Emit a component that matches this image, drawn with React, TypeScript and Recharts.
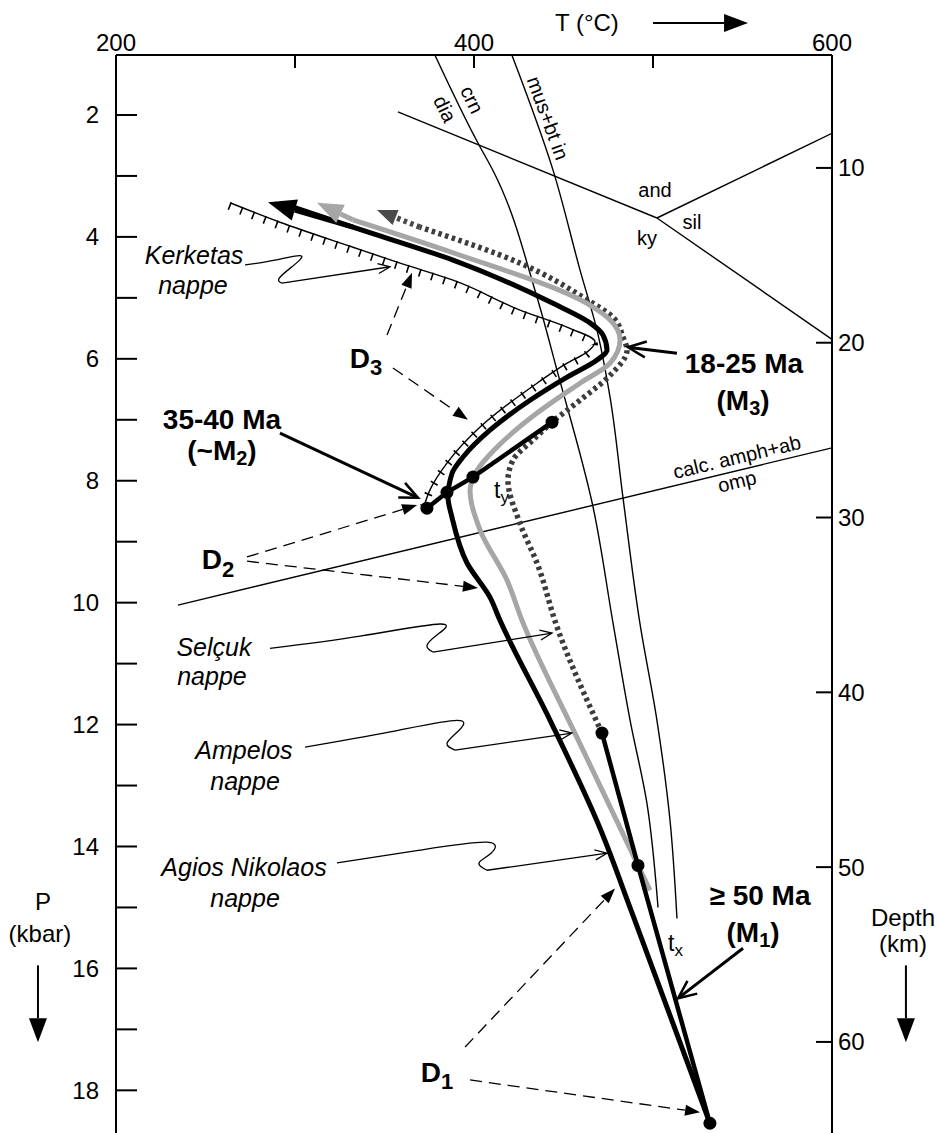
import React from 'react';
import { LineChart, Line, XAxis, YAxis, ReferenceLine, ReferenceDot } from 'recharts';

const FONT = '"Liberation Sans", Arial, Helvetica, sans-serif';

// axes
const tDomain = [200, 600];
const tTicks = [200, 300, 400, 500, 600];
const tLabelled = [200, 400, 600];
const pDomain = [1.016, 18.7];
const pTicks = [2, 3, 4, 5, 6, 7, 8, 9, 10, 11, 12, 13, 14, 15, 16, 17, 18];
const depthDomain = [3.54, 65.21];
const depthTicks = [10, 20, 30, 40, 50, 60];

type Pt = { T: number; P: number };
const pts = (rows: number[][]): Pt[] => rows.map(([T, P]) => ({ T, P }));

// reaction curves (T in °C, P in kbar)
const diaCrn = pts([[378.2, 1.02], [402.2, 2.46], [410.6, 2.91], [435.2, 4.99], [446.4, 6.19], [466.5, 8.43], [477.7, 10.34], [487.2, 11.93], [496.6, 13.29], [502.8, 15.0]]);
const musBtIn = pts([[421.2, 1.02], [444.1, 2.9], [459.2, 4.54], [468.7, 5.53], [476.0, 6.63], [483.2, 8.27], [492.7, 10.34], [502.2, 11.93], [509.5, 13.57], [513.4, 15.18]]);
const andKy = pts([[357.5, 1.95], [502.2, 3.69]]);
const andSil = pts([[502.2, 3.69], [600, 2.3]]);
const kySil = pts([[502.2, 3.69], [600, 5.68]]);
const amphOmp = pts([[234.6, 10.04], [600, 7.46]]);

// P-T paths of the nappes
const agiosPath = pts([[531.8, 18.54], [488.3, 15.09], [470.4, 13.7], [442.5, 11.93], [414.5, 10.29], [408.9, 9.91], [396.1, 9.35], [387.7, 8.6], [385.5, 8.27], [387.7, 7.88], [393.9, 7.61], [408.9, 7.17], [431.3, 6.68], [452.0, 6.3], [468.7, 6.02], [474.3, 5.86], [472.1, 5.61], [464.8, 5.41], [444.1, 5.09], [388.3, 4.38], [332.4, 3.84], [298.9, 3.51]]);
const ampelosPath = pts([[498.3, 14.72], [457.5, 12.21], [426.8, 10.29], [418.4, 9.63], [403.4, 8.81], [397.8, 8.15], [401.7, 7.83], [412.8, 7.45], [435.2, 6.89], [459.2, 6.4], [476.0, 6.07], [481.6, 5.69], [476.0, 5.36], [463.1, 5.09], [388.3, 4.26], [332.4, 3.72]]);
const selcukPath = pts([[471.5, 12.14], [446.4, 10.4], [435.2, 9.35], [425.7, 8.7], [419.0, 7.99], [421.8, 7.66], [433.0, 7.33], [443.6, 7.04], [459.2, 6.68], [476.0, 6.27], [485.5, 5.86], [483.2, 5.64], [477.7, 5.32], [463.1, 5.03], [425.7, 4.43], [369.8, 3.84]]);
const kerketasPath = pts([[263.7, 3.44], [291.6, 3.76], [332.4, 4.17], [358.7, 4.43], [388.3, 4.71], [425.7, 5.2], [453.6, 5.5], [467.6, 5.72], [463.1, 5.89], [452.0, 6.07], [435.2, 6.4], [403.4, 7.12], [384.9, 7.71], [375.4, 8.15], [372.6, 8.37]]);

// dated segments (t_y and t_x)
const m2Segment = pts([[373.7, 8.45], [384.9, 8.19], [399.4, 7.94], [443.6, 7.04]]);
const m1Segment = pts([[471.5, 12.14], [491.6, 14.31], [531.8, 18.54]]);

// path arrow heads: [T from, P from, T tip, P tip]
const agiosHead = [332.4, 3.84, 284.9, 3.43];
const ampelosHead = [332.4, 3.72, 312.3, 3.44];
const selcukHead = [369.8, 3.84, 345.8, 3.56];

// label squiggles and the straight arrow that ends each
const kerketasSquiggle = pts([[272.1, 4.46], [288.8, 4.38], [303.4, 4.31], [298.3, 4.49], [291.1, 4.68], [292.7, 4.76]]);
const selcukSquiggle = pts([[286.0, 10.75], [336.3, 10.55], [381.0, 10.35], [379.3, 10.53], [373.7, 10.71], [377.1, 10.81]]);
const ampelosSquiggle = pts([[305.6, 12.37], [353.1, 12.12], [390.5, 11.93], [391.1, 12.11], [384.9, 12.31], [389.4, 12.42]]);
const agiosSquiggle = pts([[323.5, 14.27], [369.8, 14.06], [407.3, 13.93], [409.5, 14.11], [402.8, 14.27], [407.3, 14.39]]);
const squiggles = [kerketasSquiggle, selcukSquiggle, ampelosSquiggle, agiosSquiggle];
const squiggleTips = [[353.1, 4.49], [443.6, 10.5], [454.7, 12.14], [474.3, 14.11]];

// deformation arrows (dashed) and age arrows
const dArrows = [
  [351.4, 5.61, 365.4, 4.59],
  [354.7, 6.15, 396.6, 7.0],
  [273.2, 9.25, 368.2, 8.4],
  [273.2, 9.32, 402.2, 9.76],
  [395.0, 17.29, 478.8, 14.69],
  [397.8, 17.83, 526.3, 18.36],
];
const ageArrows = [
  [291.6, 7.22, 368.7, 8.28],
  [513.4, 5.91, 486.0, 5.81],
  [550.3, 15.67, 514.0, 16.49],
];
const axisArrows = [
  [500.0, 0.49, 553.1, 0.49],
  [156.4, 15.95, 156.4, 17.21],
  [641.3, 15.95, 641.3, 17.21],
];

type Note = { T: number; P: number; text: string; kind: string; sub?: string; post?: string; rot?: number; anchor?: string };
const notes: Note[] = [
  { T: 243.6, P: 4.3, text: 'Kerketas', kind: 'nappe' },
  { T: 243.0, P: 4.79, text: 'nappe', kind: 'nappe' },
  { T: 254.7, P: 10.73, text: 'Selçuk', kind: 'nappe' },
  { T: 253.6, P: 11.21, text: 'nappe', kind: 'nappe' },
  { T: 271.5, P: 12.42, text: 'Ampelos', kind: 'nappe' },
  { T: 272.1, P: 12.93, text: 'nappe', kind: 'nappe' },
  { T: 271.5, P: 14.34, text: 'Agios Nikolaos', kind: 'nappe' },
  { T: 272.1, P: 14.85, text: 'nappe', kind: 'nappe' },
  { T: 339.7, P: 5.99, text: 'D', sub: '3', kind: 'def' },
  { T: 257.0, P: 9.3, text: 'D', sub: '2', kind: 'def' },
  { T: 379.3, P: 17.7, text: 'D', sub: '1', kind: 'def' },
  { T: 259.2, P: 7.0, text: '35-40 Ma', kind: 'age' },
  { T: 259.2, P: 7.5, text: '(~M', sub: '2', post: ')', kind: 'age' },
  { T: 550.8, P: 6.07, text: '18-25 Ma', kind: 'age' },
  { T: 550.3, P: 6.68, text: '(M', sub: '3', post: ')', kind: 'age' },
  { T: 559.8, P: 14.8, text: '≥ 50 Ma', kind: 'age' },
  { T: 555.9, P: 15.41, text: '(M', sub: '1', post: ')', kind: 'age' },
  { T: 411.2, P: 8.15, text: 't', sub: 'y', kind: 'time', anchor: 'start' },
  { T: 508.4, P: 15.59, text: 't', sub: 'x', kind: 'time', anchor: 'start' },
  { T: 501.1, P: 3.23, text: 'and', kind: 'phase' },
  { T: 521.8, P: 3.76, text: 'sil', kind: 'phase' },
  { T: 496.6, P: 4.02, text: 'ky', kind: 'phase' },
  { T: 398.9, P: 1.75, text: 'crn', kind: 'phase', rot: 64 },
  { T: 383.8, P: 1.9, text: 'dia', kind: 'phase', rot: 64 },
  { T: 441.3, P: 2.05, text: 'mus+bt in', kind: 'phase', rot: 70 },
  { T: 546.9, P: 7.61, text: 'calc. amph+ab', kind: 'phase', rot: -13.5 },
  { T: 546.9, P: 8.01, text: 'omp', kind: 'phase', rot: -13.5 },
  { T: 463.1, P: 0.49, text: 'T (°C)', kind: 'axis' },
  { T: 159.2, P: 14.91, text: 'P', kind: 'axis' },
  { T: 157.5, P: 15.42, text: '(kbar)', kind: 'axis' },
  { T: 639.7, P: 15.16, text: 'Depth', kind: 'axis' },
  { T: 639.7, P: 15.59, text: '(km)', kind: 'axis' },
];

const noteStyle: Record<string, any> = {
  nappe: { fontSize: 25, fontStyle: 'italic' },
  age: { fontSize: 28, fontWeight: 'bold', sub: 20 },
  def: { fontSize: 28, fontWeight: 'bold', sub: 22 },
  time: { fontSize: 23, sub: 17 },
  phase: { fontSize: 20 },
  axis: { fontSize: 24 },
};

const renderNote = (n: Note) => (p: any) => {
  const s = noteStyle[n.kind];
  const shift = s.sub ? s.sub * 0.4 : 0;
  return (
    <text
      x={p.cx}
      y={p.cy}
      textAnchor={n.anchor || 'middle'}
      dominantBaseline="central"
      fontFamily={FONT}
      fontSize={s.fontSize}
      fontStyle={s.fontStyle}
      fontWeight={s.fontWeight}
      fill="#000"
      transform={n.rot ? `rotate(${n.rot} ${p.cx} ${p.cy})` : undefined}
    >
      {n.text}
      {n.sub && <tspan fontSize={s.sub} dy={shift}>{n.sub}</tspan>}
      {n.post && <tspan dy={-shift}>{n.post}</tspan>}
    </text>
  );
};

type ArrowOpt = { head: number; half: number; color: string; width: number; fill?: boolean; shaft?: boolean; dash?: string; headWidth?: number };

const arrowShape = (o: ArrowOpt) => (p: any) => {
  const { x1, y1, x2, y2 } = p;
  const dx = x2 - x1;
  const dy = y2 - y1;
  const len = Math.hypot(dx, dy) || 1;
  const ux = dx / len;
  const uy = dy / len;
  const bx = x2 - ux * o.head;
  const by = y2 - uy * o.head;
  const nx = -uy * o.half;
  const ny = ux * o.half;
  const ex = o.fill ? bx : x2 - ux * 1.5;
  const ey = o.fill ? by : y2 - uy * 1.5;
  return (
    <g>
      {o.shaft !== false && (
        <line x1={x1} y1={y1} x2={ex} y2={ey} stroke={o.color} strokeWidth={o.width} strokeDasharray={o.dash} />
      )}
      {o.fill ? (
        <polygon points={`${x2},${y2} ${bx + nx},${by + ny} ${bx - nx},${by - ny}`} fill={o.color} stroke="none" />
      ) : (
        <polyline
          points={`${bx + nx},${by + ny} ${x2},${y2} ${bx - nx},${by - ny}`}
          fill="none"
          stroke={o.color}
          strokeWidth={o.headWidth || o.width}
          strokeLinejoin="miter"
        />
      )}
    </g>
  );
};

const seg = (a: number[]) => [{ x: a[0], y: a[1] }, { x: a[2], y: a[3] }];

const TTick = (props: any) => {
  const { x, y, payload } = props;
  return (
    <g>
      <line x1={x} x2={x} y1={y} y2={y + 13} stroke="#000" strokeWidth={2} />
      {tLabelled.includes(payload.value) && (
        <text x={x} y={y - 13} textAnchor="middle" dominantBaseline="central" fontFamily={FONT} fontSize={24} fill="#000">
          {payload.value}
        </text>
      )}
    </g>
  );
};

const PTick = (props: any) => {
  const { x, y, payload } = props;
  return (
    <g>
      <line x1={x} x2={x + 21} y1={y} y2={y} stroke="#000" strokeWidth={2} />
      {payload.value % 2 === 0 && (
        <text x={x - 17} y={y} textAnchor="end" dominantBaseline="central" fontFamily={FONT} fontSize={24} fill="#000">
          {payload.value}
        </text>
      )}
    </g>
  );
};

const DepthTick = (props: any) => {
  const { x, y, payload } = props;
  return (
    <g>
      <line x1={x - 16} x2={x} y1={y} y2={y} stroke="#000" strokeWidth={2} />
      <text x={x + 6} y={y} textAnchor="start" dominantBaseline="central" fontFamily={FONT} fontSize={24} fill="#000">
        {payload.value}
      </text>
    </g>
  );
};

const thin = { stroke: '#000', strokeWidth: 1.4, dot: false, activeDot: false, isAnimationActive: false } as const;

export default function App() {
  return (
    <div style={{ position: 'absolute', left: 0, top: 0, width: 939, height: 1133, background: '#fff' }}>
      <LineChart width={939} height={1133} margin={{ top: 15, right: 47, bottom: 0, left: 56 }}>
        <XAxis
          type="number"
          dataKey="T"
          orientation="top"
          domain={tDomain}
          ticks={tTicks}
          interval={0}
          allowDataOverflow
          height={40}
          tickSize={0}
          tickMargin={0}
          tickLine={false}
          axisLine={{ stroke: '#000', strokeWidth: 2 }}
          tick={(p: any) => <TTick {...p} />}
        />
        <YAxis
          type="number"
          dataKey="P"
          reversed
          domain={pDomain}
          ticks={pTicks}
          interval={0}
          allowDataOverflow
          width={60}
          tickSize={0}
          tickMargin={0}
          tickLine={false}
          axisLine={{ stroke: '#000', strokeWidth: 2 }}
          tick={(p: any) => <PTick {...p} />}
        />
        <YAxis
          yAxisId="d"
          type="number"
          orientation="right"
          reversed
          domain={depthDomain}
          ticks={depthTicks}
          interval={0}
          allowDataOverflow
          width={60}
          tickSize={0}
          tickMargin={0}
          tickLine={false}
          axisLine={{ stroke: '#000', strokeWidth: 2 }}
          tick={(p: any) => <DepthTick {...p} />}
        />

        <Line data={diaCrn} dataKey="P" type="monotoneY" {...thin} />
        <Line data={musBtIn} dataKey="P" type="monotoneY" {...thin} />
        <Line data={andKy} dataKey="P" type="linear" {...thin} />
        <Line data={andSil} dataKey="P" type="linear" {...thin} />
        <Line data={kySil} dataKey="P" type="linear" {...thin} />
        <Line data={amphOmp} dataKey="P" type="linear" {...thin} />

        <Line data={kerketasPath} dataKey="P" type="monotoneY" {...thin} />
        <Line
          data={kerketasPath}
          dataKey="P"
          type="monotoneY"
          stroke="#000"
          strokeWidth={8}
          strokeDasharray="1.6 11"
          transform="translate(-1 3)"
          dot={false}
          activeDot={false}
          isAnimationActive={false}
        />
        <Line
          data={selcukPath}
          dataKey="P"
          type="monotoneY"
          stroke="#3c3c3c"
          strokeWidth={5.5}
          strokeDasharray="3.5 3.5"
          dot={false}
          activeDot={false}
          isAnimationActive={false}
        />
        <Line data={ampelosPath} dataKey="P" type="monotoneY" stroke="#a6a6a6" strokeWidth={5} strokeLinejoin="round" dot={false} activeDot={false} isAnimationActive={false} />
        <Line data={agiosPath} dataKey="P" type="monotoneY" stroke="#000" strokeWidth={5} strokeLinejoin="round" dot={false} activeDot={false} isAnimationActive={false} />

        <Line data={m2Segment} dataKey="P" type="linear" stroke="#000" strokeWidth={4.5} dot={{ r: 6.5, fill: '#000', stroke: 'none' }} activeDot={false} isAnimationActive={false} />
        <Line data={m1Segment} dataKey="P" type="linear" stroke="#000" strokeWidth={4.5} dot={{ r: 6.5, fill: '#000', stroke: 'none' }} activeDot={false} isAnimationActive={false} />

        {squiggles.map((s, i) => (
          <Line key={`sq${i}`} data={s} dataKey="P" type="natural" stroke="#000" strokeWidth={1.3} dot={false} activeDot={false} isAnimationActive={false} />
        ))}

        <ReferenceLine segment={seg(agiosHead)} ifOverflow="visible" shape={arrowShape({ head: 28, half: 11, color: '#000', width: 5, fill: true })} />
        <ReferenceLine segment={seg(ampelosHead)} ifOverflow="visible" shape={arrowShape({ head: 26, half: 10, color: '#a6a6a6', width: 5, fill: true })} />
        <ReferenceLine segment={seg(selcukHead)} ifOverflow="visible" shape={arrowShape({ head: 20, half: 8, color: '#4a4a4a', width: 5.5, fill: true, dash: '3.5 3.5' })} />

        {squiggles.map((s, i) => (
          <ReferenceLine
            key={`sqa${i}`}
            segment={[{ x: s[s.length - 1].T, y: s[s.length - 1].P }, { x: squiggleTips[i][0], y: squiggleTips[i][1] }]}
            ifOverflow="visible"
            shape={arrowShape({ head: 12, half: 5, color: '#000', width: 1.3 })}
          />
        ))}
        {dArrows.map((a, i) => (
          <ReferenceLine key={`da${i}`} segment={seg(a)} ifOverflow="visible" shape={arrowShape({ head: 15, half: 5.5, color: '#000', width: 1.3, fill: true, dash: '12 7' })} />
        ))}
        {ageArrows.map((a, i) => (
          <ReferenceLine key={`aa${i}`} segment={seg(a)} ifOverflow="visible" shape={arrowShape({ head: 18, half: 8, color: '#000', width: 3, headWidth: 2.5 })} />
        ))}
        {axisArrows.map((a, i) => (
          <ReferenceLine key={`xa${i}`} segment={seg(a)} ifOverflow="visible" shape={arrowShape({ head: 24, half: 9, color: '#000', width: 2, fill: true })} />
        ))}

        {notes.map((n, i) => (
          <ReferenceDot key={`n${i}`} x={n.T} y={n.P} r={0} ifOverflow="visible" shape={renderNote(n)} />
        ))}
      </LineChart>
    </div>
  );
}
